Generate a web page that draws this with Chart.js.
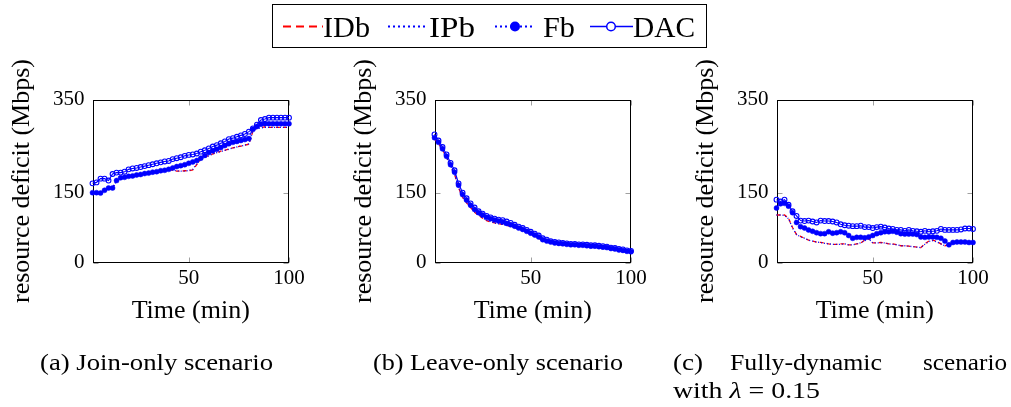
<!DOCTYPE html>
<html>
<head>
<meta charset="utf-8">
<script src="https://cdn.jsdelivr.net/npm/chart.js@4"></script>
<style>
  html, body { margin: 0; padding: 0; background: #fff; }
  body { width: 1011px; height: 407px; position: relative; overflow: hidden; }
  canvas { position: absolute; top: 40px; }
  svg { position: absolute; left: 0; top: 0; font-family: 'Liberation Serif', 'Times New Roman', serif; }
</style>
</head>
<body>
<canvas id="joinChart" width="320" height="300" style="left:0px"></canvas>
<canvas id="leaveChart" width="320" height="300" style="left:342px"></canvas>
<canvas id="dynChart" width="320" height="300" style="left:684px"></canvas>

<svg width="1011" height="407">
  <!-- legend -->
  <rect x="272.5" y="4.5" width="434" height="43" fill="none" stroke="#000" stroke-width="1"/>
  <line x1="283" y1="26.5" x2="323" y2="26.5" stroke="#f00" stroke-width="1.8" stroke-dasharray="8 5"/>
  <text x="323" y="37" font-size="29" textLength="47" lengthAdjust="spacingAndGlyphs">IDb</text>
  <line x1="388" y1="26.5" x2="428" y2="26.5" stroke="#00f" stroke-width="1.8" stroke-dasharray="2 3"/>
  <text x="429" y="37" font-size="29" textLength="46" lengthAdjust="spacingAndGlyphs">IPb</text>
  <line x1="495" y1="26.5" x2="535" y2="26.5" stroke="#00f" stroke-width="1.8" stroke-dasharray="2 3"/>
  <circle cx="515" cy="26.5" r="5" fill="#00f"/>
  <text x="543" y="37" font-size="29" textLength="32" lengthAdjust="spacingAndGlyphs">Fb</text>
  <line x1="590" y1="26.5" x2="633" y2="26.5" stroke="#00f" stroke-width="1.4"/>
  <circle cx="611" cy="26.5" r="4.3" fill="#fff" stroke="#00f" stroke-width="1.5"/>
  <text x="633" y="37" font-size="29" textLength="62" lengthAdjust="spacingAndGlyphs">DAC</text>

  <!-- captions -->
  <text x="40" y="370" font-size="23" textLength="233" lengthAdjust="spacingAndGlyphs">(a)  Join-only scenario</text>
  <text x="373" y="370" font-size="23" textLength="250" lengthAdjust="spacingAndGlyphs">(b)  Leave-only scenario</text>
  <text x="673" y="370" font-size="23" textLength="30" lengthAdjust="spacingAndGlyphs">(c)</text>
  <text x="730" y="370" font-size="23" textLength="152" lengthAdjust="spacingAndGlyphs">Fully-dynamic</text>
  <text x="923" y="370" font-size="23" textLength="84" lengthAdjust="spacingAndGlyphs">scenario</text>
  <text x="673" y="398" font-size="23" textLength="147" lengthAdjust="spacingAndGlyphs">with <tspan font-style="italic">λ</tspan> = 0.15</text>
</svg>

<script>
// time axis (min)
const time = [2, 4, 6, 8, 10, 12, 14, 16, 18, 20, 22, 24, 26, 28, 30, 32, 34, 36, 38, 40,
              42, 44, 46, 48, 50, 52, 54, 56, 58, 60, 62, 64, 66, 68, 70, 72, 74, 76, 78, 80,
              82, 84, 86, 88, 90, 92, 94, 96, 98, 100];

const xTicks = [50, 100];
const yTicks = [0, 150, 350];

// (a) join-only
const joinIDb = [150, 150, 149, 155, 160, 160, 176, 182, 183, 185, 186, 188, 189, 191, 192, 194, 195, 197, 198, 200,
                 198, 196, 196, 197, 197, 199, 210, 222, 226, 230, 233, 236, 239, 241, 244, 246, 248, 250, 252, 254,
                 282, 289, 290, 291, 290, 290, 290, 290, 290, 290];
const joinIPb = [150, 150, 149, 155, 160, 160, 176, 182, 183, 185, 186, 188, 189, 191, 192, 194, 195, 197, 198, 200,
                 199, 197, 196, 196, 198, 200, 212, 222, 226, 229, 233, 236, 238, 241, 243, 246, 248, 250, 252, 255,
                 281, 288, 289, 290, 290, 290, 290, 290, 290, 290];
const joinFb  = [150, 150, 149, 155, 160, 160, 176, 182, 183, 185, 186, 188, 189, 191, 192, 194, 195, 197, 198, 200,
                 203, 206, 208, 210, 213, 216, 219, 224, 230, 236, 240, 243, 247, 251, 255, 258, 260, 262, 264, 266,
                 286, 292, 297, 298, 298, 298, 298, 298, 298, 298];
const joinDAC = [170, 172, 180, 180, 176, 190, 193, 193, 195, 200, 202, 203, 205, 207, 209, 211, 213, 215, 217, 218,
                 222, 224, 226, 229, 231, 232, 234, 238, 241, 245, 249, 252, 256, 260, 265, 267, 270, 273, 276, 281,
                 288, 296, 306, 308, 311, 311, 311, 311, 311, 311];

// (b) leave-only
const leaveIDb = [265, 256, 242, 226, 207, 190, 160, 140, 128, 118, 108, 101, 95, 90, 87, 85, 83, 82, 80, 78,
                  75, 72, 69, 65, 60, 56, 52, 47, 44, 42, 41, 40, 39, 38, 37, 37, 36, 36, 35, 34,
                  34, 33, 32, 31, 29, 28, 26, 25, 23, 22];
const leaveIPb = [266, 256, 243, 226, 208, 191, 161, 141, 129, 118, 109, 102, 96, 91, 88, 85, 83, 82, 80, 78,
                  75, 72, 69, 65, 61, 56, 52, 47, 44, 42, 41, 40, 39, 38, 37, 37, 36, 36, 35, 34,
                  34, 33, 32, 31, 29, 28, 26, 25, 23, 22];
const leaveFb  = [268, 258, 244, 228, 210, 194, 166, 146, 134, 123, 114, 107, 102, 97, 94, 91, 89, 87, 84, 81,
                  78, 74, 71, 67, 63, 59, 55, 49, 46, 44, 42, 41, 40, 39, 38, 38, 37, 37, 36, 35,
                  35, 34, 33, 32, 30, 29, 27, 26, 24, 23];
const leaveDAC = [275, 262, 248, 232, 214, 198, 170, 150, 138, 127, 118, 110, 105, 100, 97, 94, 92, 91, 88, 85,
                  81, 77, 74, 70, 66, 62, 58, 52, 49, 46, 44, 43, 42, 41, 40, 40, 39, 39, 38, 37,
                  37, 36, 35, 34, 32, 31, 29, 28, 26, 25];

// (c) fully-dynamic, lambda = 0.15
const dynIDb = [102, 102, 102, 95, 75, 60, 56, 52, 48, 46, 44, 43, 42, 40, 39, 39, 40, 40, 38, 38,
                40, 42, 48, 52, 42, 42, 43, 42, 40, 40, 38, 36, 36, 35, 34, 33, 32, 40, 46, 48,
                45, 40, 36, 38, 42, 43, 43, 43, 42, 42];
const dynIPb = [102, 102, 101, 94, 74, 60, 55, 52, 48, 46, 44, 43, 41, 40, 39, 39, 39, 40, 38, 38,
                40, 42, 47, 51, 42, 42, 42, 42, 40, 39, 38, 36, 36, 35, 34, 33, 32, 39, 45, 47,
                44, 40, 36, 38, 42, 43, 43, 43, 42, 42];
const dynFb  = [117, 126, 127, 121, 107, 86, 77, 74, 70, 67, 64, 62, 62, 66, 63, 64, 66, 64, 58, 52,
                54, 54, 53, 55, 58, 62, 64, 66, 66, 67, 65, 62, 61, 61, 61, 60, 55, 54, 55, 55,
                54, 52, 46, 38, 43, 44, 44, 44, 43, 43];
const dynDAC = [135, 131, 135, 124, 110, 100, 90, 89, 90, 88, 86, 90, 89, 89, 88, 86, 82, 80, 79, 78,
                78, 79, 76, 76, 74, 76, 77, 75, 73, 72, 70, 70, 68, 70, 68, 67, 66, 68, 66, 67,
                68, 72, 70, 70, 70, 70, 71, 73, 73, 72];

const RED = "#ff0000";
const BLUE = "#0000ff";

Chart.defaults.font.family = "'Liberation Serif', 'Times New Roman', serif";
Chart.defaults.color = "#000";

// frame + inward ticks like pgfplots
const framePlugin = {
    id: "frame",
    beforeDatasetsDraw(chart) {
        const { ctx, chartArea: a, scales } = chart;
        const l = Math.round(a.left) + 0.5, r = Math.round(a.right) - 0.5;
        const t = Math.round(a.top) + 0.5, b = Math.round(a.bottom) - 0.5;
        ctx.save();
        ctx.strokeStyle = "#a0a0a0";
        ctx.lineWidth = 1;
        ctx.beginPath();
        xTicks.forEach(v => {
            const px = Math.round(scales.x.getPixelForValue(v)) + 0.5;
            ctx.moveTo(px, t); ctx.lineTo(px, t + 5);
            ctx.moveTo(px, b); ctx.lineTo(px, b - 5);
        });
        yTicks.forEach(v => {
            const py = Math.round(scales.y.getPixelForValue(v)) + 0.5;
            ctx.moveTo(l, py); ctx.lineTo(l + 5, py);
            ctx.moveTo(r, py); ctx.lineTo(r - 5, py);
        });
        ctx.stroke();
        ctx.strokeStyle = "#000";
        ctx.strokeRect(l, t, r - l, b - t);
        ctx.restore();
    }
};

function points(arr) {
    return time.map((t, i) => ({ x: t, y: arr[i] }));
}

function makeChart(id, idb, ipb, fb, dac) {
    const ctx = document.getElementById(id).getContext("2d");
    return new Chart(ctx, {
        type: "line",
        data: {
            datasets: [
                {
                    label: "IDb",
                    data: points(idb),
                    borderColor: RED,
                    borderWidth: 1.3,
                    borderDash: [4, 3],
                    pointRadius: 0,
                    order: 4
                },
                {
                    label: "IPb",
                    data: points(ipb),
                    borderColor: BLUE,
                    borderWidth: 1.3,
                    borderDash: [1, 2],
                    pointRadius: 0,
                    order: 3
                },
                {
                    label: "Fb",
                    data: points(fb),
                    borderColor: BLUE,
                    borderWidth: 1.2,
                    borderDash: [1, 2],
                    pointRadius: 2.5,
                    pointBackgroundColor: BLUE,
                    pointBorderColor: BLUE,
                    pointBorderWidth: 0.5,
                    order: 2
                },
                {
                    label: "DAC",
                    data: points(dac),
                    borderColor: BLUE,
                    borderWidth: 1.1,
                    pointRadius: 2.4,
                    pointBackgroundColor: "rgba(0,0,0,0)",
                    pointBorderColor: BLUE,
                    pointBorderWidth: 1.1,
                    order: 1
                }
            ]
        },
        options: {
            responsive: false,
            maintainAspectRatio: false,
            animation: false,
            events: [],
            datasets: { line: { tension: 0, fill: false, clip: false } },
            layout: { autoPadding: false, padding: { left: 0, right: 31, top: 59.5, bottom: 0 } },
            scales: {
                x: {
                    type: "linear",
                    min: 2,
                    max: 100,
                    afterBuildTicks: s => { s.ticks = xTicks.map(v => ({ value: v })); },
                    afterFit: s => { s.height = 77.5; },
                    grid: { display: false, drawTicks: false },
                    border: { display: false },
                    ticks: { padding: 3, autoSkip: false, maxRotation: 0, font: { size: 21 }, color: "#000" },
                    title: { display: true, text: "Time (min)", font: { size: 26 }, color: "#000", padding: { top: 0, bottom: 13.4 } }
                },
                y: {
                    min: 0,
                    max: 350,
                    afterBuildTicks: s => { s.ticks = yTicks.map(v => ({ value: v })); },
                    afterFit: s => { s.width = 92.5; },
                    grid: { display: false, drawTicks: false },
                    border: { display: false },
                    ticks: { padding: 8, autoSkip: false, font: { size: 21 }, color: "#000" },
                    title: { display: true, text: "resource deficit (Mbps)", font: { size: 26 }, color: "#000", padding: { top: 6.4, bottom: 0 } }
                }
            },
            plugins: {
                legend: { display: false },
                tooltip: { enabled: false }
            }
        },
        plugins: [framePlugin]
    });
}

makeChart("joinChart", joinIDb, joinIPb, joinFb, joinDAC);
makeChart("leaveChart", leaveIDb, leaveIPb, leaveFb, leaveDAC);
makeChart("dynChart", dynIDb, dynIPb, dynFb, dynDAC);
</script>
</body>
</html>
